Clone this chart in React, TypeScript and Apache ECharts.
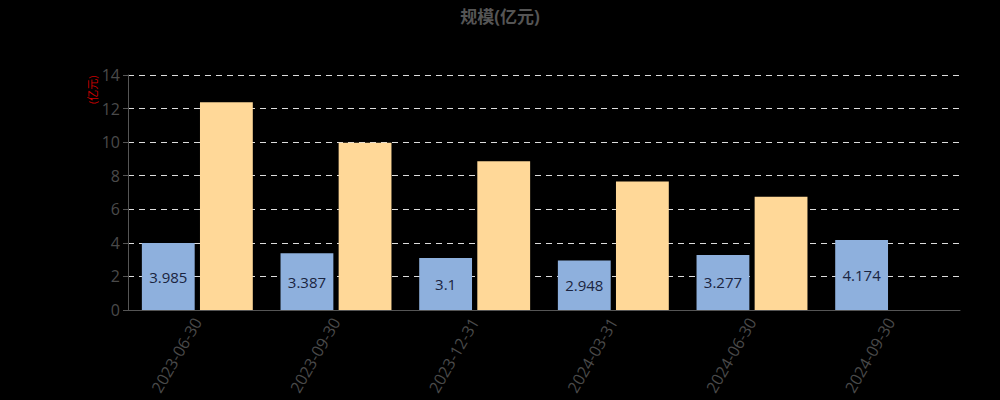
import React, { useEffect, useRef } from "react";
import * as echarts from "echarts";

const categories = ["2023-06-30", "2023-09-30", "2023-12-31", "2024-03-31", "2024-06-30", "2024-09-30"];
const seriesA = [3.985, 3.387, 3.1, 2.948, 3.277, 4.174];
const seriesB: (number | null)[] = [12.38, 9.97, 8.86, 7.65, 6.75, null];
const yTicks = { min: 0, max: 14, interval: 2 };

export default function App() {
  const ref = useRef<HTMLDivElement>(null);
  useEffect(() => {
    const chart = echarts.init(ref.current!, null, { renderer: "svg" });
    const font = "'Open Sans', 'Noto Sans CJK SC', sans-serif";
    chart.setOption({
      animation: false,
      backgroundColor: "#000",
      textStyle: { fontFamily: font },
      title: {
        text: "规模(亿元)",
        left: "center",
        top: 3,
        textStyle: { color: "#555", fontSize: 17, fontWeight: "bold", fontFamily: font },
      },
      graphic: [
        {
          type: "text",
          x: 87,
          y: 104,
          rotation: Math.PI / 2,
          style: { text: "(亿元)", fill: "#c00", fontSize: 11, fontFamily: font },
        },
      ],
      grid: { left: 128, right: 40, top: 75, bottom: 90 },
      xAxis: {
        type: "category",
        data: categories,
        axisLine: { lineStyle: { color: "#555" } },
        axisTick: { lineStyle: { color: "#555" } },
        axisLabel: { color: "#4a4a4a", fontSize: 16, rotate: 60, margin: 9 },
      },
      yAxis: {
        type: "value",
        min: yTicks.min,
        max: yTicks.max,
        interval: yTicks.interval,
        axisLine: { show: true, lineStyle: { color: "#555" } },
        axisTick: { show: true, lineStyle: { color: "#555" } },
        axisLabel: { color: "#4a4a4a", fontSize: 16, margin: 8 },
        splitLine: { lineStyle: { color: "#ddd", type: [6, 5], width: 1.2 } },
      },
      series: [
        {
          type: "bar",
          data: seriesA,
          barGap: "10%",
          barCategoryGap: "20%",
          itemStyle: { color: "#8EB0DD" },
          label: { show: true, position: "inside", color: "#1a2440", fontSize: 15 },
        },
        {
          type: "bar",
          data: seriesB,
          itemStyle: { color: "#FFD898" },
        },
      ],
    });
    return () => chart.dispose();
  }, []);
  return <div ref={ref} style={{ width: 1000, height: 400, position: "absolute", left: 0, top: 0 }} />;
}
